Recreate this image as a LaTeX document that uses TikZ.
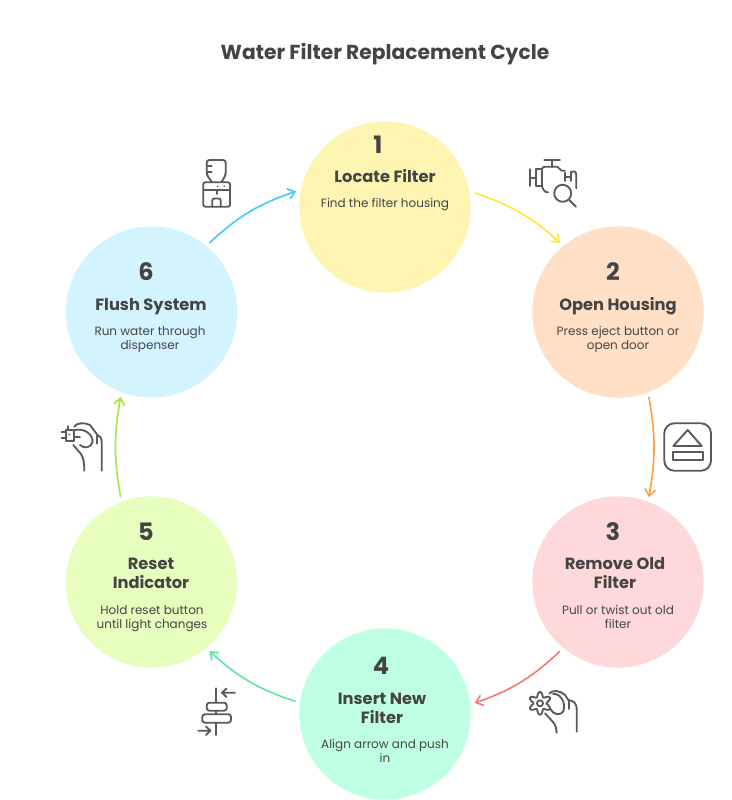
\documentclass[tikz,border=0pt]{standalone}
\usepackage{fontspec}
\setmainfont{Poppins}
\usetikzlibrary{arrows.meta}
\definecolor{ink}{HTML}{444444}
\definecolor{icon}{HTML}{5A5A5A}
\definecolor{d1}{HTML}{FFF5B3}
\definecolor{d2}{HTML}{FFE0C7}
\definecolor{d3}{HTML}{FFD9D9}
\definecolor{d4}{HTML}{BFFFE3}
\definecolor{d5}{HTML}{E6FFBF}
\definecolor{d6}{HTML}{D3F3FF}
\definecolor{a1}{HTML}{FFE838}
\definecolor{a2}{HTML}{FF9F40}
\definecolor{a3}{HTML}{FF7373}
\definecolor{a4}{HTML}{5CE6A0}
\definecolor{a5}{HTML}{A5E640}
\definecolor{a6}{HTML}{40C8FF}
\newcommand{\ls}[1]{\strut #1\strut}
\tikzset{
  stepdisc/.style={circle,minimum size=128.5pt,inner sep=0pt,outer sep=3.5pt,fill=#1},
  numtext/.style={text=ink,font=\fontsize{18}{20}\selectfont\bfseries,inner sep=0pt},
  headtext/.style={text=ink,align=center,font=\fontsize{12.2}{14.25}\selectfont\bfseries,inner sep=0pt},
  desctext/.style={text=ink,align=center,font=\fontsize{9}{10.5}\selectfont,inner sep=0pt},
  titletext/.style={text=ink,font=\fontsize{15.2}{18}\selectfont\bfseries,inner sep=0pt},
  flow/.style={line width=1.2pt,-{Straight Barb[length=5pt,width=8pt,line width=1.2pt]},draw=#1},
  iconline/.style={draw=icon,line width=1.4pt,line cap=round,line join=round,fill=none}
}
\begin{document}
\begin{tikzpicture}[x=0.75pt,y=-0.75pt]
\useasboundingbox (0,0) rectangle (732,800);
\fill[white] (0,0) rectangle (732,800);
\node[titletext] (title) at (385,54) {Water Filter Replacement Cycle};
% discs
\node[stepdisc=d1] (c1) at (385,207) {};
\node[stepdisc=d2] (c2) at (618,312) {};
\node[stepdisc=d3] (c3) at (618,582) {};
\node[stepdisc=d4] (c4) at (385,714) {};
\node[stepdisc=d5] (c5) at (151.5,582) {};
\node[stepdisc=d6] (c6) at (151.5,312) {};
% connectors
\draw[flow=a1] (c1.9) to[bend left=12] (c2.130);
\draw[flow=a2] (c2.-70) to[bend left=10] (c3.70);
\draw[flow=a3] (c3.230) to[bend left=12] (c4.7);
\draw[flow=a4] (c4.172) to[bend left=12] (c5.-50);
\draw[flow=a5] (c5.110) to[bend left=10] (c6.-110);
\draw[flow=a6] (c6.50) to[bend left=12] (c1.170);
% step 1
\node[numtext] (n1) at (378,145) {1};
\node[headtext] (h1) at (385,179) {\ls{Locate Filter}};
\node[desctext] (t1) at (385,205) {\ls{Find the filter housing}};
% step 2
\node[numtext] (n2) at (613,272) {2};
\node[headtext] (h2) at (618,307) {\ls{Open Housing}};
\node[desctext] (t2) at (618,340) {\ls{Press eject button or}\\\ls{open door}};
% step 3
\node[numtext] (n3) at (613,532) {3};
\node[headtext] (h3) at (615,575.5) {\ls{Remove Old}\\\ls{Filter}};
\node[desctext] (t3) at (618,619) {\ls{Pull or twist out old}\\\ls{filter}};
% step 4
\node[numtext] (n4) at (381,666) {4};
\node[headtext] (h4) at (382,710.5) {\ls{Insert New}\\\ls{Filter}};
\node[desctext] (t4) at (385,753) {\ls{Align arrow and push}\\\ls{in}};
% step 5
\node[numtext] (n5) at (146,532) {5};
\node[headtext] (h5) at (151,575.5) {\ls{Reset}\\\ls{Indicator}};
\node[desctext] (t5) at (152,619) {\ls{Hold reset button}\\\ls{until light changes}};
% step 6
\node[numtext] (n6) at (146,272) {6};
\node[headtext] (h6) at (151,307) {\ls{Flush System}};
\node[desctext] (t6) at (150,340) {\ls{Run water through}\\\ls{dispenser}};
% icon: valve with magnifier
\begin{scope}[iconline]
\draw (544.3,160) -- (560,160) (552.3,160) -- (552.3,167);
\draw (541.7,169.3) .. controls (542.5,167.5) and (543.5,166.7) .. (545,166.7) -- (557.3,166.7) .. controls (559,167) and (560,170.7) .. (561.7,170.7) -- (565,170.7);
\draw (530,169.3) -- (530,186) (530,177.7) -- (536,177.7);
\draw (536,169.3) rectangle (541.7,186);
\draw (541.7,186) .. controls (543,189) and (544,192.3) .. (548,192.3);
\draw (565,172.7) -- (565,181) (565,176.7) -- (570.7,176.7) (570.7,171.7) -- (570.7,181);
\draw (570.7,172.7) .. controls (573,170.5) and (576.3,171) .. (576.3,175) -- (576.3,188.3);
\draw (562.7,193.3) circle[radius=8.5];
\draw (569.3,200) -- (576,206.7);
\end{scope}
% icon: eject
\begin{scope}[iconline]
\draw[rounded corners=7.5] (664.3,423.3) rectangle (711,470.7);
\draw (673.3,446) -- (701.7,446) -- (687.7,430) -- cycle;
\draw (672.7,452.3) rectangle (702.7,460.3);
\end{scope}
% icon: hand with gear
\begin{scope}[iconline]
\draw plot[smooth cycle,samples=37,domain=0:350] ({540+(9-2.6*cos(6*\x))*cos(\x)},{703.3+(9-2.6*cos(6*\x))*sin(\x)});
\draw (540,703.3) circle[radius=3];
\draw (549.3,693.5) .. controls (552,690) and (560,690) .. (565,695) -- (568.3,700) .. controls (574,701) and (576.7,703) .. (576.7,710) -- (576.7,731.7);
\draw (568.7,700) -- (568.7,709);
\draw (553,694) .. controls (560,693) and (566,702) .. (563.5,711) .. controls (561,716) and (553,715) .. (550.5,709);
\draw (545,713.3) -- (553,722) .. controls (556,726) and (556.7,729) .. (556.7,732.7);
\end{scope}
% icon: centred bars with arrows
\begin{scope}[iconline]
\draw (216,688.3) -- (216,702.7) (216,710.7) -- (216,714.3) (216,722.7) -- (216,735);
\draw[rounded corners=2] (206.7,702.7) rectangle (226.7,710.7);
\draw[rounded corners=2] (202.3,714.3) rectangle (231,722.7);
\draw (235,692.7) -- (222,692.7) (226.5,688.5) -- (222,692.7) -- (226.5,697);
\draw (198.3,730.7) -- (210.5,730.7) (206,726.5) -- (210.5,730.7) -- (206,735);
\end{scope}
% icon: hand with chip
\begin{scope}[iconline]
\draw (66,430) rectangle (74.3,440.7);
\fill[icon] (69.3,434.3) circle[radius=1];
\draw (61.7,432.3) -- (66,432.3) (61.7,438.3) -- (66,438.3) (68.3,426) -- (68.3,430);
\draw (74.3,426.7) .. controls (76,423) and (84,422) .. (90,425) -- (97.5,435) .. controls (100,436) and (101.7,438) .. (101.7,442) -- (101.7,470.7);
\draw (97.3,435) -- (97.3,443.3);
\draw (75,430) .. controls (84,428) and (93,434) .. (92.5,442) .. controls (91,448) and (84,449) .. (80,445);
\draw (74.3,437.3) -- (80,437.3);
\draw (73.3,445) -- (81,454) .. controls (83.5,458) and (84.3,462) .. (84.3,470.7);
\end{scope}
% icon: water cooler
\begin{scope}[iconline]
\draw[rounded corners=2] (211.7,181.7) -- (206.7,175) -- (206.7,160) -- (225.7,160) -- (225.7,175) -- (221.7,181.7);
\draw (206.7,166) -- (211.7,166) (206.7,172.3) -- (211.7,172.3);
\draw[rounded corners=1.5] (203.3,182.3) rectangle (230,206.7);
\draw (203.3,190) -- (230,190);
\draw (216.7,190) -- (216.7,194);
\fill[icon] (217.7,186.2) circle[radius=.9] (224.3,186.2) circle[radius=.9];
\draw[rounded corners=1.5] (212.3,206.7) -- (212.3,198.5) -- (220.7,198.5) -- (220.7,206.7);
\end{scope}
\end{tikzpicture}
\end{document}
